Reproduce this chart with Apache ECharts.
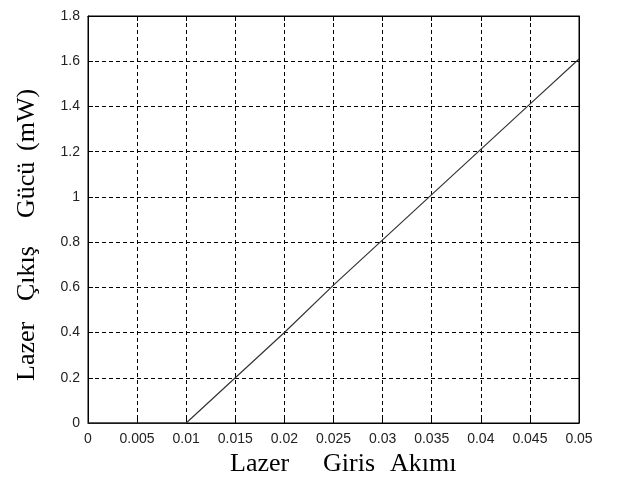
<!DOCTYPE html>
<html>
<head>
<meta charset="utf-8">
<script src="https://cdn.jsdelivr.net/npm/echarts@6/dist/echarts.min.js"></script>
<style>
html,body{margin:0;padding:0;background:#fff;}
#chart{width:617px;height:477px;}
</style>
</head>
<body>
<div id="chart"></div>
<script>
// Data
const current = [0, 0.005, 0.01, 0.015, 0.02, 0.025, 0.03, 0.035, 0.04, 0.045, 0.05];
const power   = [0, 0, 0, 0.20, 0.40, 0.61, 0.81, 1.01, 1.21, 1.41, 1.61];
const xTickLabels = ['0','0.005','0.01','0.015','0.02','0.025','0.03','0.035','0.04','0.045','0.05'];
const yTickLabels = ['0','0.2','0.4','0.6','0.8','1','1.2','1.4','1.6','1.8'];
const xTitleWords = ['Lazer', 'Giris', 'Akımı'];
const yTitleWords = ['Lazer', 'Çıkış', 'Gücü', '(mW)'];

const chart = echarts.init(document.getElementById('chart'), null, {renderer: 'canvas'});
const tickFont = {fontFamily: '"Liberation Sans", Arial, sans-serif', fontSize: 14, color: '#222'};
const gridLine = {show: true, lineStyle: {color: '#000', width: 1, type: [4, 3]}};

const xIdx = v => Math.round(v / 0.005);
const yIdx = v => Math.round(v / 0.2);

const xPos = [230, 323, 390];
const yPos = [381, 301, 218, 151];
const titleFont = '"Liberation Serif", "Times New Roman", serif';

const graphics = [];
xTitleWords.forEach((w, i) => graphics.push({
  type: 'text', x: xPos[i], y: 464,
  style: {text: w, font: '26px ' + titleFont, fill: '#000', textAlign: 'left', textVerticalAlign: 'middle'}
}));
yTitleWords.forEach((w, i) => graphics.push({
  type: 'text', x: 27, y: yPos[i], rotation: Math.PI / 2,
  style: {text: w, font: '26px ' + titleFont, fill: '#000', textAlign: 'left', textVerticalAlign: 'middle'}
}));

chart.setOption({
  backgroundColor: '#fff',
  animation: false,
  grid: {left: 88, right: 38, top: 16, bottom: 54, show: true, borderColor: '#000', borderWidth: 1, containLabel: false},
  xAxis: [{
    type: 'value', min: 0, max: 0.05, interval: 0.005,
    axisLine: {show: true, onZero: false, lineStyle: {color: '#000', width: 1}},
    axisTick: {show: true, inside: true, length: 5, lineStyle: {color: '#000'}},
    axisLabel: Object.assign({margin: 9, formatter: v => xTickLabels[xIdx(v)]}, tickFont),
    splitLine: gridLine
  }, {
    type: 'value', position: 'top', min: 0, max: 0.05, interval: 0.005,
    axisLine: {show: true, onZero: false, lineStyle: {color: '#000', width: 1}},
    axisTick: {show: true, inside: true, length: 5, lineStyle: {color: '#000'}},
    axisLabel: {show: false}, splitLine: {show: false}
  }],
  yAxis: [{
    type: 'value', min: 0, max: 1.8, interval: 0.2,
    axisLine: {show: true, onZero: false, lineStyle: {color: '#000', width: 1}},
    axisTick: {show: true, inside: true, length: 5, lineStyle: {color: '#000'}},
    axisLabel: Object.assign({margin: 8, formatter: v => yTickLabels[yIdx(v)]}, tickFont),
    splitLine: gridLine
  }, {
    type: 'value', position: 'right', min: 0, max: 1.8, interval: 0.2,
    axisLine: {show: true, onZero: false, lineStyle: {color: '#000', width: 1}},
    axisTick: {show: true, inside: true, length: 5, lineStyle: {color: '#000'}},
    axisLabel: {show: false}, splitLine: {show: false}
  }],
  series: [{
    type: 'line',
    data: current.map((c, i) => [c, power[i]]),
    showSymbol: false,
    symbol: 'none',
    lineStyle: {color: '#333', width: 1.2},
    clip: false
  }],
  graphic: graphics
});
</script>
</body>
</html>
